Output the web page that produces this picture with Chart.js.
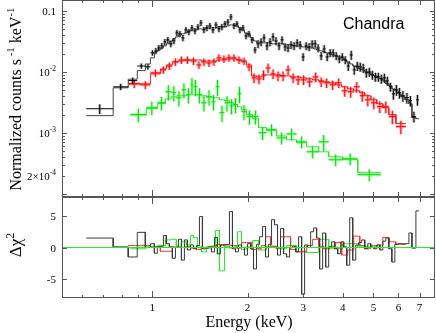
<!DOCTYPE html>
<html><head><meta charset="utf-8">
<script src="https://cdn.jsdelivr.net/npm/chart.js@4/dist/chart.umd.min.js"></script>
<style>
html,body{margin:0;padding:0;background:#fff;width:436px;height:333px;overflow:hidden;}
canvas{position:absolute;left:0;}
#top{top:0;}
#bot{top:197px;}
</style></head><body>
<canvas id="top" width="436" height="198" style="width:436px;height:198px"></canvas>
<canvas id="bot" width="436" height="136" style="width:436px;height:136px"></canvas>
<script>
// ---------- axis ranges & ticks ----------
const X_MIN = 0.518, X_MAX = 7.83;
const Y_MIN = 8.9e-5, Y_MAX = 0.151;
const RES_MIN = -8, RES_MAX = 8;
const xMajorTicks = [1, 2, 3, 4, 5, 6, 7];
const xMinorTicks = [0.6, 0.7, 0.8, 0.9];
const xTickLabels = ['1', '2', '3', '4', '5', '6', '7'];
const yMajorTicks = [1e-4, 1e-3, 1e-2, 1e-1];
const yMinorTicks = [2e-4,3e-4,4e-4,5e-4,6e-4,7e-4,8e-4,9e-4,2e-3,3e-3,4e-3,5e-3,6e-3,7e-3,8e-3,9e-3,2e-2,3e-2,4e-2,5e-2,6e-2,7e-2,8e-2,9e-2];
const yLabelValues = [0.1, 0.01, 0.001, 0.0002];
const yLabelParts = [[['0.1',0]], [['10',0],['-2',1]], [['10',0],['-3',1]], [['2\u00d710',0],['-4',1]]];
const resTicks = [5, 0, -5];
const resTickLabels = ['5', '0', '-5'];

// ---------- black (bins: edges, data, model, error %, residual) ----------
const blackEdges = [0.618, 0.752, 0.839, 0.896, 0.950, 0.986, 1.015,
1.037, 1.060, 1.084, 1.107, 1.132, 1.157, 1.183, 1.209, 1.236, 1.263,
1.291, 1.320, 1.349, 1.379, 1.409, 1.440, 1.472, 1.504, 1.538, 1.572,
1.606, 1.642, 1.678, 1.715, 1.753, 1.792, 1.832, 1.872, 1.914, 1.956,
2.000, 2.044, 2.089, 2.135, 2.183, 2.231, 2.280, 2.330, 2.382, 2.434,
2.488, 2.543, 2.600, 2.657, 2.716, 2.776, 2.838, 2.900, 2.965, 3.030,
3.097, 3.166, 3.236, 3.307, 3.380, 3.455, 3.532, 3.610, 3.690, 3.772,
3.855, 3.941, 4.028, 4.117, 4.208, 4.301, 4.397, 4.494, 4.593, 4.696,
4.799, 4.906, 5.015, 5.126, 5.239, 5.356, 5.474, 5.595, 5.719, 5.846,
5.975, 6.108, 6.289, 6.475, 6.618, 6.814, 6.966];
const blackFlux = [0.00249, 0.0057, 0.0072, 0.0125, 0.0121, 0.0205, 0.0221, 0.0247, 0.0267, 0.0310,
0.0335, 0.0288, 0.0322, 0.0436, 0.0420, 0.0361, 0.0488, 0.0453, 0.0526, 0.0470,
0.0547, 0.0636, 0.0488, 0.0526, 0.0568, 0.0488, 0.0590, 0.0507, 0.0547, 0.0612,
0.0660, 0.0797, 0.0568, 0.0612, 0.0488, 0.0526, 0.0389, 0.0420, 0.0335, 0.0229,
0.0288, 0.0310, 0.0361, 0.0267, 0.0310, 0.0375, 0.0322, 0.0267, 0.0335, 0.0257,
0.0247, 0.0277, 0.0267, 0.0299, 0.0277, 0.0176, 0.0267, 0.0257, 0.0288, 0.0288,
0.0247, 0.0183, 0.0238, 0.0176, 0.0205, 0.0205, 0.0183, 0.0163, 0.0176, 0.0157,
0.0125, 0.0190, 0.0108, 0.0125, 0.0121, 0.0116, 0.00964, 0.0100, 0.00894, 0.00829,
0.00829, 0.00769, 0.00799, 0.00714, 0.00570, 0.00438, 0.00509, 0.00455, 0.00406, 0.00377,
0.00337, 0.00185, 0.00349];
const blackModel = [0.00192, 0.00549, 0.0076, 0.0105, 0.0135, 0.017, 0.0213, 0.0229, 0.0247, 0.0267,
0.0288, 0.0322, 0.0348, 0.0375, 0.0404, 0.0420, 0.0436, 0.0470, 0.0488, 0.0488,
0.0507, 0.0507, 0.0507, 0.0526, 0.0526, 0.0526, 0.0526, 0.0547, 0.0547, 0.0547,
0.0568, 0.0590, 0.0590, 0.0568, 0.0526, 0.0488, 0.0436, 0.0404, 0.0361, 0.0322,
0.0299, 0.0299, 0.0299, 0.0299, 0.0299, 0.0288, 0.0288, 0.0288, 0.0288, 0.0277,
0.0277, 0.0277, 0.0267, 0.0267, 0.0267, 0.0257, 0.0257, 0.0247, 0.0247, 0.0238,
0.0229, 0.0221, 0.0213, 0.0205, 0.0197, 0.0190, 0.0183, 0.0176, 0.0170, 0.0157,
0.0146, 0.0135, 0.0125, 0.0121, 0.0112, 0.0108, 0.0100, 0.00964, 0.00894, 0.00861,
0.00799, 0.00769, 0.00714, 0.00638, 0.00592, 0.00528, 0.00490, 0.00438, 0.00391, 0.00349,
0.00301, 0.00178, 0.00171];
const blackErrPct = [18, 12, 12, 10, 10, 10, 12, 12, 12, 12,
12, 12, 12, 12, 12, 12, 12, 12, 12, 12,
12, 12, 12, 12, 12, 12, 12, 12, 12, 12,
12, 12, 12, 12, 12, 12, 12, 12, 12, 12,
15, 15, 15, 15, 15, 15, 15, 15, 15, 15,
15, 15, 15, 15, 15, 15, 15, 15, 15, 15,
15, 15, 15, 15, 15, 15, 15, 15, 15, 15,
17, 17, 17, 17, 17, 17, 17, 17, 17, 17,
17, 17, 17, 17, 17, 20, 20, 20, 20, 20,
20, 20, 20];
const blackResid = [1.5, 0.1, -1.5, 2.4, 0.0, 0.6, -0.9, 0.1, 0.2, 1.9,
0.6, 0.1, -1.7, 0.0, 1.3, -2.0, 1.2, -0.4, 0.4, -0.2,
0.3, 4.9, -0.2, -0.1, 0.1, -0.7, 1.6, -1.0, 0.4, 0.5,
0.5, 5.7, -0.2, -0.7, 0.4, 0.0, -1.2, 0.6, -0.2, -3.4,
0.5, 1.7, 3.3, -1.5, 0.5, 4.4, 3.6, -1.2, 3.0, -1.0,
-1.5, 0.0, 0.2, -0.7, 1.7, -7.4, 0.4, 0.0, 2.5, 3.1,
1.5, -3.4, 2.3, -3.1, 0.1, 0.9, -0.2, -1.0, 0.9, 0.1,
-2.8, 4.7, -2.0, 0.4, 0.8, 1.2, -0.2, 0.6, 0.0, -0.2,
0.4, -0.4, 1.0, 1.5, -0.2, -2.3, 0.5, 0.6, 0.6, 0.6,
2.3, -0.1, 5.8];

// ---------- red ----------
const redEdges = [0.839, 0.916, 0.986, 1.060, 1.107, 1.157, 1.209, 1.263, 1.320, 1.379,
1.429, 1.483, 1.538, 1.595, 1.654, 1.715, 1.779, 1.845, 1.914, 1.985,
2.059, 2.135, 2.214, 2.280, 2.365, 2.452, 2.543, 2.638, 2.736, 2.838,
2.943, 3.075, 3.212, 3.356, 3.480, 3.636, 3.800, 3.970, 4.147, 4.333,
4.527, 4.696, 4.906, 5.126, 5.356, 5.595, 5.889, 6.335];
const redFlux = [0.00638, 0.00614, 0.00964, 0.0108, 0.0125, 0.0146, 0.0157, 0.0157, 0.0151, 0.0130,
0.0146, 0.0140, 0.0146, 0.0170, 0.0163, 0.0170, 0.0170, 0.0157, 0.0151, 0.0121,
0.00799, 0.00769, 0.00894, 0.0116, 0.00928, 0.00861, 0.00861, 0.0108, 0.00799, 0.00741,
0.00741, 0.00687, 0.00829, 0.00687, 0.00662, 0.00614, 0.00662, 0.00490, 0.00472, 0.00570,
0.00406, 0.00349, 0.00312, 0.00269, 0.00269, 0.00185, 0.00127];
const redModel = [0.00638, 0.00638, 0.00928, 0.0112, 0.0130, 0.0146, 0.0151, 0.0157, 0.0157, 0.0157,
0.0151, 0.0151, 0.0151, 0.0157, 0.0157, 0.0163, 0.0163, 0.0157, 0.0146, 0.0130,
0.00861, 0.00829, 0.00861, 0.00894, 0.00894, 0.00894, 0.00861, 0.00861, 0.00829, 0.00829,
0.00799, 0.00769, 0.00741, 0.00714, 0.00687, 0.00662, 0.00614, 0.00570, 0.00528, 0.00490,
0.00455, 0.00406, 0.00349, 0.00301, 0.00259, 0.00199, 0.00142];
const redErrPct = [15, 15, 14, 14, 14, 14, 14, 14, 14, 14,
14, 14, 14, 14, 14, 14, 14, 14, 14, 15,
18, 18, 18, 18, 18, 18, 18, 18, 18, 18,
18, 18, 18, 18, 18, 18, 18, 20, 20, 20,
20, 22, 22, 22, 22, 25, 25];
const redResid = [0.3, 0.3, 0.1, -0.6, -0.6, 0.1, 0.0, 0.2, -0.1, -0.3,
0.0, 0.1, 0.2, 0.5, 0.3, 0.4, 0.3, -0.1, 0.8, 0.8,
-0.3, -0.2, 0.3, 1.7, 0.2, -0.1, 1.7, 1.7, -0.3, -0.7,
-0.7, 0.3, 1.3, 0.2, -0.2, 0.2, 0.8, -1.2, -0.4, 1.8,
0.3, -0.2, 0.3, 0.4, 1.6, 0.9, 0.5];

// ---------- green ----------
const greenEdges = [0.852, 0.957, 1.037, 1.100, 1.148, 1.191, 1.236, 1.281, 1.320, 1.349,
1.389, 1.429, 1.483, 1.538, 1.584, 1.630, 1.691, 1.753, 1.805, 1.859,
1.914, 1.985, 2.074, 2.167, 2.297, 2.470, 2.657, 2.858, 3.075, 3.356,
3.610, 3.999, 4.461, 5.278];
const greenFlux = [0.00199, 0.00259, 0.00312, 0.00472, 0.00455, 0.00377, 0.00509, 0.00422, 0.00614, 0.00570,
0.00422, 0.00312, 0.00391, 0.00324, 0.00570, 0.00215, 0.00312, 0.00279, 0.00290, 0.00438,
0.00223, 0.00185, 0.00185, 0.00101, 0.00113, 0.000829, 0.000963, 0.000714, 0.000490, 0.000714,
0.000363, 0.000377, 0.000207];
const greenModel = [0.00199, 0.00249, 0.00301, 0.00363, 0.00391, 0.00406, 0.00406, 0.00422, 0.00422, 0.00422,
0.00422, 0.00406, 0.00391, 0.00377, 0.00377, 0.00349, 0.00337, 0.00312, 0.00290, 0.00269,
0.00240, 0.00199, 0.00171, 0.00122, 0.00109, 0.000893, 0.000769, 0.000688, 0.000592, 0.000490,
0.000406, 0.000363, 0.000223];
const greenErrPct = [25, 25, 25, 28, 28, 28, 28, 28, 30, 30,
28, 28, 28, 28, 30, 30, 28, 28, 28, 30,
28, 26, 26, 25, 22, 22, 22, 22, 22, 30,
22, 22, 22];
const greenResid = [-0.2, 0.1, 0.3, 1.2, 1.3, 0.2, 0.9, 0.4, 1.9, 1.6,
0.1, -0.7, -0.1, 0.2, 2.7, -3.7, 0.2, -0.1, 0.1, 2.5,
-0.3, 0.1, 1.1, -0.4, 0.2, -0.2, 0.3, -0.6, -0.8, 1.3,
-0.2, 0.6, 0.1];

// ---------- builders ----------
const SERIF = '"Liberation Serif", "Times New Roman", serif';
const SANS = '"Liberation Sans", Arial, sans-serif';
function crossData(edges, flux, errPct) {
  const out = [];
  for (let i = 0; i < flux.length; i++) {
    const lo = edges[i], hi = edges[i + 1], c = Math.sqrt(lo * hi), f = flux[i], e = f * errPct[i] / 100;
    out.push({x: lo, y: f}, {x: hi, y: f}, {x: hi, y: null},
             {x: c, y: f - e}, {x: c, y: f + e}, {x: c, y: null});
  }
  return out;
}
function vBars(edges, flux, errPct) {
  const out = [];
  for (let i = 0; i < flux.length; i++) {
    const c = Math.sqrt(edges[i] * edges[i + 1]), f = flux[i], e = f * errPct[i] / 100;
    out.push({x: c, y: f - e}, {x: c, y: f + e}, {x: c, y: null});
  }
  return out;
}
function stepData(edges, vals) {
  const out = [];
  for (let i = 0; i < vals.length; i++) out.push({x: edges[i], y: vals[i]}, {x: edges[i + 1], y: vals[i]});
  return out;
}
function ds(data, color, width) {
  return {data, borderColor: color, borderWidth: width, pointRadius: 0, fill: false, tension: 0, spanGaps: false};
}
function line(ctx, x1, y1, x2, y2) { ctx.beginPath(); ctx.moveTo(x1, y1); ctx.lineTo(x2, y2); ctx.stroke(); }
function drawParts(ctx, parts, x, y, align, size) {
  const ss = size * 0.68;
  let w = 0;
  for (const [t, s] of parts) { ctx.font = (s ? ss : size) + 'px ' + SERIF; w += ctx.measureText(t).width; }
  let cx = align === 'right' ? x - w : (align === 'center' ? x - w / 2 : x);
  ctx.textAlign = 'left'; ctx.textBaseline = 'alphabetic';
  for (const [t, s] of parts) {
    ctx.font = (s ? ss : size) + 'px ' + SERIF;
    ctx.fillText(t, cx, s ? y - size * 0.42 : y);
    cx += ctx.measureText(t).width;
  }
}
function xTicks(ctx, sx, a) {
  for (const v of xMajorTicks) {
    const px = Math.round(sx.getPixelForValue(v)) + 0.5, len = v === 1 ? 7 : 5;
    line(ctx, px, a.bottom, px, a.bottom - len); line(ctx, px, a.top, px, a.top + len);
  }
  for (const v of xMinorTicks) {
    const px = Math.round(sx.getPixelForValue(v)) + 0.5;
    line(ctx, px, a.bottom, px, a.bottom - 3); line(ctx, px, a.top, px, a.top + 3);
  }
}
function yTicks(ctx, sy, a, vals, len) {
  for (const v of vals) {
    const py = Math.round(sy.getPixelForValue(v)) + 0.5;
    line(ctx, a.left, py, a.left + len, py); line(ctx, a.right, py, a.right - len, py);
  }
}

// ---------- top panel ----------
const topAxes = {
  id: 'topAxes',
  afterDraw(chart) {
    const {ctx, chartArea: a, scales: {x: sx, y: sy}} = chart;
    ctx.save();
    ctx.strokeStyle = '#555'; ctx.lineWidth = 1;
    ctx.strokeRect(a.left + 0.5, a.top + 0.5, a.right - a.left - 1, a.bottom - a.top - 1);
    xTicks(ctx, sx, a);
    yTicks(ctx, sy, a, yMajorTicks, 5);
    yTicks(ctx, sy, a, yMinorTicks, 3);
    ctx.fillStyle = '#000';
    yLabelValues.forEach((v, i) => drawParts(ctx, yLabelParts[i], 56, sy.getPixelForValue(v) + 4, 'right', 11));
    ctx.save();
    ctx.translate(21, 99); ctx.rotate(-Math.PI / 2);
    drawParts(ctx, [['Normalized counts s', 0], [' -1', 1], [' keV', 0], ['-1', 1]], 0, 0, 'center', 16);
    ctx.restore();
    ctx.font = '16px ' + SANS; ctx.textAlign = 'left'; ctx.textBaseline = 'alphabetic';
    ctx.fillText('Chandra', 343, 29);
    ctx.restore();
  }
};
new Chart(document.getElementById('top'), {
  type: 'line',
  data: {datasets: [
    ds(crossData(blackEdges, blackFlux, blackErrPct), '#000', 1),
    ds(stepData(blackEdges, blackModel), '#444', 1),
    ds(vBars(blackEdges, blackFlux, blackErrPct), 'rgba(0,0,0,0.28)', 3),
    ds(crossData(redEdges, redFlux, redErrPct), '#ff0000', 1),
    ds(stepData(redEdges, redModel), '#ff1a1a', 1),
    ds(crossData(redEdges, redFlux, redErrPct), 'rgba(255,0,0,0.3)', 3),
    ds(crossData(greenEdges, greenFlux, greenErrPct), '#00e000', 1),
    ds(stepData(greenEdges, greenModel), '#22ee22', 1),
    ds(crossData(greenEdges, greenFlux, greenErrPct), 'rgba(0,230,0,0.3)', 3)
  ]},
  options: {
    responsive: false, animation: false, devicePixelRatio: 1, events: [],
    layout: {padding: {left: 62, right: 1, top: 0, bottom: 1}},
    scales: {
      x: {type: 'logarithmic', min: X_MIN, max: X_MAX, display: false},
      y: {type: 'logarithmic', min: Y_MIN, max: Y_MAX, display: false}
    },
    plugins: {legend: {display: false}, tooltip: {enabled: false}, title: {display: false}}
  },
  plugins: [topAxes]
});

// ---------- residual panel ----------
const botAxes = {
  id: 'botAxes',
  afterDraw(chart) {
    const {ctx, chartArea: a, scales: {x: sx, y: sy}} = chart;
    ctx.save();
    ctx.strokeStyle = '#555'; ctx.lineWidth = 1;
    ctx.strokeRect(a.left + 0.5, a.top + 0.5, a.right - a.left - 1, a.bottom - a.top - 1);
    xTicks(ctx, sx, a);
    yTicks(ctx, sy, a, resTicks, 5);
    ctx.fillStyle = '#000';
    resTicks.forEach((v, i) => drawParts(ctx, [[resTickLabels[i], 0]], 56, sy.getPixelForValue(v) + 4, 'right', 11));
    xMajorTicks.forEach((v, i) => drawParts(ctx, [[xTickLabels[i], 0]], sx.getPixelForValue(v), 114, 'center', 11));
    drawParts(ctx, [['Energy (keV)', 0]], 249, 130, 'center', 16);
    ctx.save();
    ctx.translate(21, 48); ctx.rotate(-Math.PI / 2);
    drawParts(ctx, [['\u0394\u03c7', 0], ['2', 1]], 0, 0, 'center', 17);
    ctx.restore();
    ctx.restore();
  }
};
new Chart(document.getElementById('bot'), {
  type: 'line',
  data: {datasets: [
    ds([{x: X_MIN, y: 0}, {x: X_MAX, y: 0}], '#22ee22', 1),
    ds(stepData(blackEdges, blackResid), '#3a3a3a', 1),
    ds(stepData(redEdges, redResid), '#ff3030', 1),
    ds(stepData(greenEdges, greenResid), '#22ee22', 1)
  ]},
  options: {
    responsive: false, animation: false, devicePixelRatio: 1, events: [],
    layout: {padding: {left: 62, right: 1, top: 0, bottom: 35}},
    scales: {
      x: {type: 'logarithmic', min: X_MIN, max: X_MAX, display: false},
      y: {type: 'linear', min: RES_MIN, max: RES_MAX, display: false}
    },
    plugins: {legend: {display: false}, tooltip: {enabled: false}, title: {display: false}}
  },
  plugins: [botAxes]
});
</script>
</body></html>
